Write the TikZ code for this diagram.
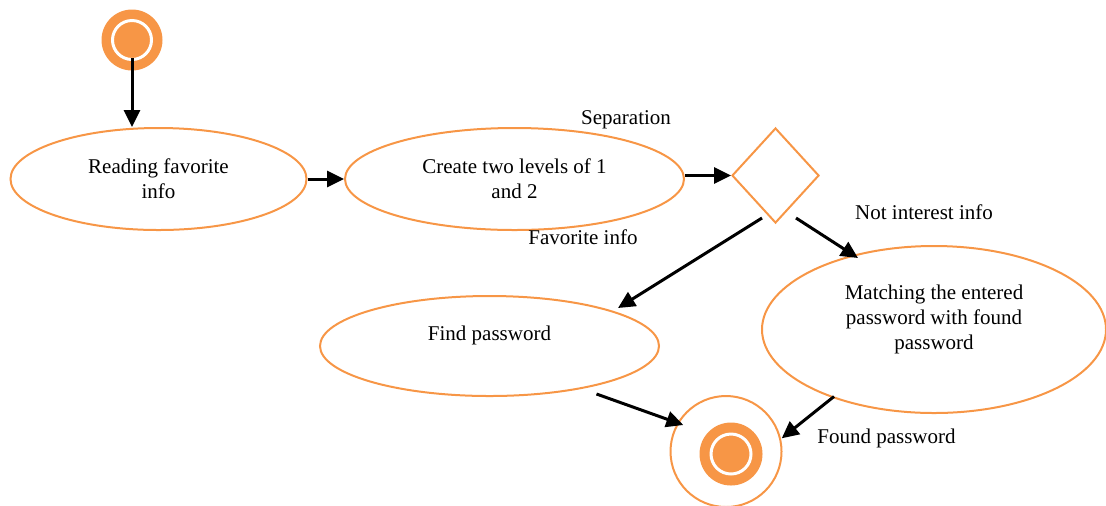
\documentclass[tikz,border=0pt]{standalone}
\usepackage{fontspec}
\setmainfont{Liberation Serif}
\usetikzlibrary{shapes.geometric,arrows.meta}
\definecolor{umlorange}{HTML}{F79646}
\begin{document}
\begin{tikzpicture}[x=0.5pt,y=-0.5pt,
  every node/.style={font=\fontsize{10.5}{12.5}\selectfont},
  state/.style={ellipse, draw=umlorange, line width=1pt, inner sep=0pt, align=center},
  conn/.style={line width=1.5pt, -{Triangle[length=8.5pt,width=8pt]}},
  lbl/.style={inner sep=0pt}]
\useasboundingbox (0,0) rectangle (1106,505);
\clip (0,0) rectangle (1106,505);

% initial state
\node[circle, fill=umlorange, minimum size=30.5pt, inner sep=0pt] (start) at (132,40) {};
\draw[white, line width=1.5pt] (start.center) circle[radius=9.75pt];

% activities
\node[state, minimum width=148pt, minimum height=51pt] (read) at (158.5,179) {Reading favorite\\info};
\node[state, minimum width=169.5pt, minimum height=51pt] (create) at (514.5,179) {Create two levels of 1\\and 2};
\node[diamond, draw=umlorange, line width=1pt, minimum width=43.5pt, minimum height=47.5pt, inner sep=0pt] (dia) at (775.5,175.5) {};
\node[state, minimum width=169.5pt, minimum height=50pt] (find) at (489.5,346) {Find password\\\mbox{}};
\node[state, minimum width=172pt, minimum height=83.5pt] (match) at (934,329.5) {Matching the entered\\password with found\\password\\\mbox{}};

% final state
\node[circle, draw=umlorange, line width=1pt, minimum size=55.5pt, inner sep=0pt] (end) at (726,451.5) {};
\node[circle, fill=umlorange, minimum size=31.5pt, inner sep=0pt] (endcore) at (731,454) {};
\draw[white, line width=1.5pt] (endcore.center) circle[radius=10pt];

% transitions
\draw[conn] ([shift={(0,18)}]start.center) -- (start |- read.north);
\draw[conn] (read.east) -- (create.west);
\draw[conn] (create.east |- dia.west) -- (dia.west);
\draw[conn] ([shift={(-13.5,-6)}]dia.south) -- ([shift={(128.5,-38)}]find.center);
\draw[conn] ([shift={(20.5,-6)}]dia.south) -- ([shift={(-76,-71.5)}]match.center);
\draw[conn] ([shift={(107,48)}]find.center) -- ([shift={(-42.7,-26.5)}]end.center);
\draw[conn] ([shift={(-100,67)}]match.center) -- ([shift={(55.7,-13.2)}]end.center);

% guard labels
\node[lbl] (sep) at (626,120) {Separation};
\node[lbl] (fav) at (583,237) {Favorite info};
\node[lbl] (notint) at (924,212) {Not interest info};
\node[lbl] (found) at (886.5,438) {Found password};
\end{tikzpicture}
\end{document}
